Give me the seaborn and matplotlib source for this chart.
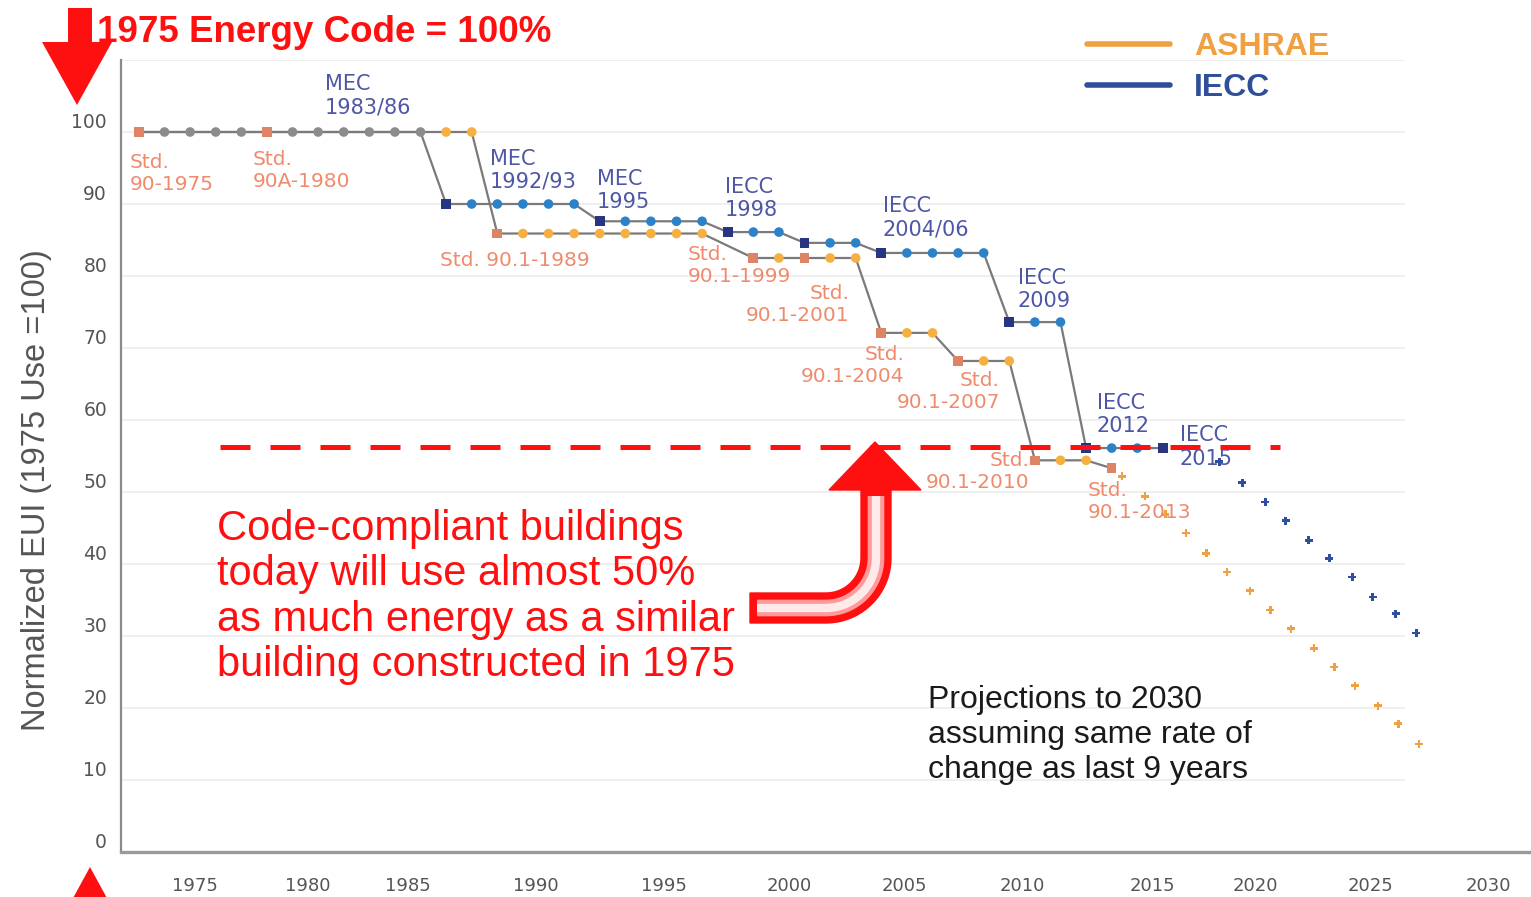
import numpy as np
import pandas as pd
import matplotlib.pyplot as plt
import seaborn as sns
from matplotlib.patches import Polygon
from matplotlib.lines import Line2D

# ---- data (normalized EUI, 1975 use = 100) ----
ash_years = [1975, 1976, 1977, 1978, 1979, 1980, 1981, 1982, 1983, 1984, 1985, 1986, 1987, 1988,
             1989, 1990, 1991, 1992, 1993, 1994, 1995, 1996, 1997,
             1999, 2000, 2001, 2002, 2003, 2004, 2005, 2006, 2007, 2008, 2009, 2010, 2011, 2012, 2013]
ash_vals = [100, 100, 100, 100, 100, 100, 100, 100, 100, 100, 100, 100, 100, 100,
            85.9, 85.9, 85.9, 85.9, 85.9, 85.9, 85.9, 85.9, 85.9,
            82.5, 82.5, 82.5, 82.5, 82.5, 72.1, 72.1, 72.1, 68.2, 68.2, 68.2, 54.4, 54.4, 54.4, 53.3]
ash_code_years = [1975, 1980, 1989, 1999, 2001, 2004, 2007, 2010, 2013]

iecc_years = [1975, 1976, 1977, 1978, 1979, 1980, 1981, 1982, 1983, 1984, 1985, 1986,
              1987, 1988, 1989, 1990, 1991, 1992, 1993, 1994, 1995, 1996, 1997,
              1998, 1999, 2000, 2001, 2002, 2003, 2004, 2005, 2006, 2007, 2008,
              2009, 2010, 2011, 2012, 2013, 2014, 2015]
iecc_vals = [100, 100, 100, 100, 100, 100, 100, 100, 100, 100, 100, 100,
             90, 90, 90, 90, 90, 90, 87.6, 87.6, 87.6, 87.6, 87.6,
             86.1, 86.1, 86.1, 84.6, 84.6, 84.6, 83.2, 83.2, 83.2, 83.2, 83.2,
             73.6, 73.6, 73.6, 56.1, 56.1, 56.1, 56.1]
iecc_code_years = [1987, 1993, 1998, 2001, 2004, 2009, 2012, 2015]

# projections to 2030
iecc_proj_years = [2017.2, 2018.1, 2019.0, 2019.8, 2020.7, 2021.5, 2022.4, 2023.2, 2024.1, 2024.9]
iecc_proj_vals = [54.2, 51.3, 48.6, 46.0, 43.3, 40.8, 38.2, 35.4, 33.1, 30.4]
ash_proj_years = [2013.4, 2014.3, 2015.1, 2015.9, 2016.7, 2017.5, 2018.4, 2019.2, 2020.0,
                  2020.9, 2021.7, 2022.5, 2023.4, 2024.2, 2025.0]
ash_proj_vals = [52.2, 49.4, 46.9, 44.3, 41.5, 38.9, 36.3, 33.6, 31.0, 28.3, 25.7, 23.1, 20.3, 17.8, 15.0]

today_level = 56.25
today_span = [1978.16, 2019.57]

iecc_labels = ["MEC\n1983/86", "MEC\n1992/93", "MEC\n1995", "IECC\n1998", "IECC\n2004/06",
               "IECC\n2009", "IECC\n2012", "IECC\n2015"]
iecc_label_xy = [(1982.27, 105.0), (1988.71, 94.7), (1992.89, 91.9), (1997.89, 90.8),
                 (2004.06, 88.1), (2009.34, 78.1), (2012.42, 60.8), (2015.66, 56.25)]
ash_labels = ["Std.\n90-1975", "Std.\n90A-1980", "Std. 90.1-1989", "Std.\n90.1-1999",
              "Std.\n90.1-2001", "Std.\n90.1-2004", "Std.\n90.1-2007", "Std.\n90.1-2010",
              "Std.\n90.1-2013"]
ash_label_xy = [(1974.65, 94.3), (1979.45, 94.7), (1986.76, 82.2), (1996.45, 81.4),
                (2002.77, 76.1), (2004.92, 67.6), (2008.63, 64.0), (2009.8, 52.9), (2012.07, 48.7)]
ash_label_ha = ["left", "left", "left", "left", "right", "right", "right", "right", "left"]

xtick_pos = [1977.2, 1981.6, 1985.5, 1990.5, 1995.5, 2000.4, 2004.9, 2009.5, 2014.6, 2018.6, 2023.1, 2027.7]
xtick_labels = ["1975", "1980", "1985", "1990", "1995", "2000", "2005", "2010", "2015", "2020", "2025", "2030"]
ytick_vals = [0, 10, 20, 30, 40, 50, 60, 70, 80, 90, 100]
grid_vals = [10, 20, 30, 40, 50, 60, 70, 80, 90, 100, 110]

# ---- colours ----
GRAY = "#8c8c8c"
ORANGE = "#f5b041"
SALMON = "#dd8466"
BLUE = "#2c82c9"
NAVY = "#283583"
LBL_BLUE = "#4e57a6"
LBL_SALMON = "#f08a6c"
RED = "#ff1010"

# points table
rows = []
for y, v in zip(ash_years, ash_vals):
    if y in ash_code_years:
        k = "ash_code"
    elif y <= 1986:
        k = "shared"
    else:
        k = "ash"
    rows.append((y, v, k))
for y, v in zip(iecc_years, iecc_vals):
    if y <= 1986:
        continue
    k = "iecc_code" if y in iecc_code_years else "iecc"
    rows.append((y, v, k))
pts = pd.DataFrame(rows, columns=["year", "value", "kind"])
proj = pd.DataFrame({
    "year": iecc_proj_years + ash_proj_years,
    "value": iecc_proj_vals + ash_proj_vals,
    "kind": ["iecc_proj"] * len(iecc_proj_years) + ["ash_proj"] * len(ash_proj_years),
})

sns.set_style("white")
plt.rcParams["font.family"] = ["DejaVu Sans"]

W, H = 1531, 897
fig = plt.figure(figsize=(15.31, 8.97), dpi=100)
ax = fig.add_axes([121 / W, 1 - 852 / H, 1 - 121 / W, (852 - 60) / H])
ax.set_xlim(1974.3, 2029.38)
ax.set_ylim(0, 110)

ax.hlines(grid_vals, 1974.3, 2024.45, color="#efefef", lw=1.4, zorder=0)

sns.lineplot(x=ash_years, y=ash_vals, color="#7a7a7a", lw=1.6, estimator=None, sort=False, ax=ax, zorder=2)
sns.lineplot(x=iecc_years, y=iecc_vals, color="#7a7a7a", lw=1.6, estimator=None, sort=False, ax=ax, zorder=2)

pal = {"shared": GRAY, "ash": ORANGE, "ash_code": SALMON, "iecc": BLUE, "iecc_code": NAVY}
mk = {"shared": "o", "ash": "o", "ash_code": "s", "iecc": "o", "iecc_code": "s"}
sns.scatterplot(data=pts, x="year", y="value", hue="kind", style="kind", palette=pal, markers=mk,
                s=48, linewidth=0, legend=False, ax=ax, zorder=3)
sns.scatterplot(data=proj, x="year", y="value", hue="kind", style="kind",
                palette={"iecc_proj": "#2d4f9e", "ash_proj": "#f0a040"},
                markers={"iecc_proj": "P", "ash_proj": "P"},
                s=34, linewidth=0, legend=False, ax=ax, zorder=3)

ax.hlines(today_level, today_span[0], today_span[1], color=RED, lw=3.6,
          linestyles=(0, (6, 4)), zorder=4)


def fpt(x, y):
    return (x / W, 1 - y / H)


# curved red arrow (drawn in figure pixels)
cx, cy = 826, 558
th = np.linspace(np.pi / 2, 0, 20)
outer = [(750, 623)] + [(cx + 65 * np.cos(t), cy + 65 * np.sin(t)) for t in th] + \
        [(891, 490), (921, 490), (875, 442), (829, 490), (861, 490)] + \
        [(cx + 35 * np.cos(t), cy + 35 * np.sin(t)) for t in th[::-1]] + [(750, 593)]
fig.add_artist(Polygon([fpt(x, y) for x, y in outer], closed=True, fc=RED, ec=RED, lw=1,
                       transform=fig.transFigure, zorder=5))
mid = [(757, 608)] + [(cx + 50 * np.cos(t), cy + 50 * np.sin(t)) for t in th] + [(876, 496)]
mx = [fpt(x, y)[0] for x, y in mid]
my = [fpt(x, y)[1] for x, y in mid]
fig.add_artist(Line2D(mx, my, color="#ff9a9a", lw=12, solid_capstyle="butt",
                      transform=fig.transFigure, zorder=6))
fig.add_artist(Line2D(mx, my, color="#ffeaea", lw=6, solid_capstyle="butt",
                      transform=fig.transFigure, zorder=7))

# code labels
for t, (x, y) in zip(iecc_labels, iecc_label_xy):
    ax.text(x, y, t, color=LBL_BLUE, fontsize=15, ha="left", va="center", linespacing=1.2, zorder=6)
for t, (x, y), ha in zip(ash_labels, ash_label_xy, ash_label_ha):
    ax.text(x, y, t, color=LBL_SALMON, fontsize=14.5, ha=ha, va="center", linespacing=1.2, zorder=6)

ax.text(1978.05, 35.4, "Code-compliant buildings\ntoday will use almost 50%\nas much energy as a similar\n"
        "building constructed in 1975", color=RED, fontsize=30, family="Liberation Sans",
        ha="left", va="center", linespacing=1.18, zorder=6)
ax.text(2005.82, 16.3, "Projections to 2030\nassuming same rate of\nchange as last 9 years",
        color="#1a1a1a", fontsize=23, family="Liberation Sans", ha="left", va="center",
        linespacing=1.22, zorder=6)

# axes styling
for s in ["top", "right"]:
    ax.spines[s].set_visible(False)
ax.spines["left"].set_color("#8a8a8a")
ax.spines["left"].set_linewidth(1.6)
ax.spines["bottom"].set_color("#9a9a9a")
ax.spines["bottom"].set_linewidth(2.4)

ax.set_xticks(xtick_pos)
ax.set_xticklabels(xtick_labels)
ax.set_yticks(ytick_vals)
ax.set_yticklabels([str(v) for v in ytick_vals])
ax.tick_params(axis="x", length=0, pad=18, labelsize=13, labelcolor="#555555")
ax.tick_params(axis="y", length=0, pad=10, labelsize=13.5, labelcolor="#555555")
for lbl in ax.get_yticklabels():
    lbl.set_va("bottom")
ax.set_xlabel("")
ax.set_ylabel("Normalized EUI (1975 Use =100)", fontsize=23.5, color="#555555", family="Liberation Sans")
ax.yaxis.set_label_coords(-0.049, 0.457)

# title and red arrows
fig.text(97 / W, 1 - 32 / H, "1975 Energy Code = 100%", color=RED, fontsize=26.5,
         fontweight="bold", family="Liberation Sans", ha="left", va="center")
down_arrow = Polygon([fpt(68, 8), fpt(92, 8), fpt(92, 42), fpt(112, 42), fpt(77, 105),
                      fpt(42, 42), fpt(68, 42)], closed=True, fc=RED, ec="none",
                     transform=fig.transFigure)
fig.add_artist(down_arrow)
up_arrow = Polygon([fpt(72, 900), fpt(108, 900), fpt(90, 867)], closed=True, fc=RED, ec="none",
                   transform=fig.transFigure)
fig.add_artist(up_arrow)

# legend
handles = [Line2D([], [], color="#f0a040", lw=4), Line2D([], [], color="#2f4f9a", lw=4)]
fig.legend(handles, ["ASHRAE", "IECC"], loc="upper left", bbox_to_anchor=(1087 / W, 1 - 32 / H),
           frameon=False, prop={"family": "Liberation Sans", "size": 23, "weight": "bold"},
           handlelength=2.6, handletextpad=0.75, labelspacing=0.36, borderpad=0, borderaxespad=0,
           labelcolor=["#f0a040", "#2f4f9a"])

fig.savefig("out.png", dpi=100)
